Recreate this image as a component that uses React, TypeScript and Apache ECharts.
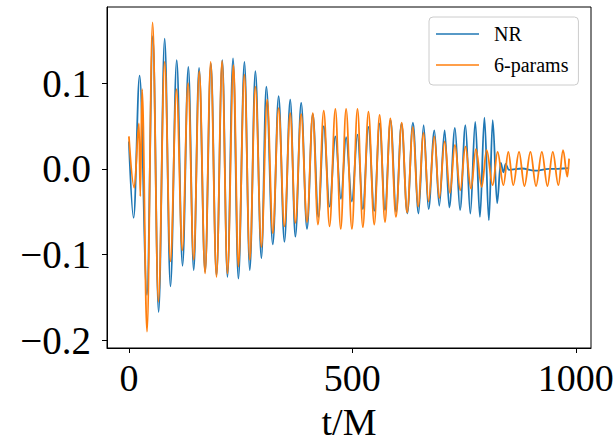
import React, { useEffect, useRef } from "react";
import * as echarts from "echarts";

// NR waveform: times (t/M) and values read at each extremum
const nrTime = [0, 10.5, 24, 40.5, 53.5, 66.5, 80, 93, 107, 120, 133, 145, 157, 170.5, 183.5, 196, 209, 220.5, 233, 245, 258.5, 270.5, 283, 296.5, 307.5, 322, 335, 348, 361, 372.5, 385.5, 398.5, 411.5, 424, 436, 449, 462, 474.5, 486, 499, 511.5, 523.5, 536, 549, 561, 573, 585.5, 598, 610, 623, 635.5, 648, 659.5, 670.5, 683.5, 694.5, 706.5, 717, 729.5, 741, 753, 764, 775, 785.5, 795.5, 805.5, 814, 824, 832, 838, 843, 850, 880, 908, 940, 985];
const nrValue = [0.032, -0.057, 0.109, -0.147, 0.155, -0.167, 0.152, -0.137, 0.127, -0.113, 0.119, -0.118, 0.118, -0.12, 0.123, -0.124, 0.127, -0.126, 0.129, -0.128, 0.125, -0.118, 0.114, -0.104, 0.096, -0.088, 0.085, -0.085, 0.081, -0.079, 0.077, -0.07, 0.064, -0.056, 0.05, -0.044, 0.038, -0.035, 0.037, -0.038, 0.04, -0.047, 0.049, -0.049, 0.053, -0.048, 0.057, -0.05, 0.053, -0.052, 0.054, -0.052, 0.051, -0.047, 0.045, -0.043, 0.045, -0.045, 0.048, -0.048, 0.051, -0.052, 0.055, -0.056, 0.06, -0.06, 0.057, -0.04, 0.007, -0.004, 0.006, -0.001, 0.0005, -0.002, 0.0, 0.001];

// 6-params model waveform
const fitTime = [0, 12, 22.5, 25.5, 29.5, 40.5, 53, 66, 80, 93, 106.5, 119.5, 132.5, 145, 157.5, 170.5, 183, 196, 208.5, 220.5, 234, 245, 258.5, 270.5, 283, 296.5, 309.5, 322, 335, 348, 361, 372.5, 385.5, 398.5, 411.5, 423, 436, 449, 462, 474, 486, 499, 511.5, 523.5, 536, 549, 561, 573, 585, 597.5, 610.5, 622.5, 635.5, 647, 659.5, 670.5, 683.5, 694.5, 706.5, 718.5, 729.5, 741.5, 753, 765.5, 776.5, 789.5, 800.5, 814, 825, 838, 849, 860, 873, 885, 898.5, 911, 924, 936.5, 948.5, 961, 971.5, 981, 985];
const fitValue = [0.038, -0.022, 0.053, -0.032, 0.093, -0.19, 0.171, -0.155, 0.125, -0.108, 0.093, -0.095, 0.1, -0.106, 0.114, -0.122, 0.125, -0.126, 0.126, -0.122, 0.121, -0.114, 0.11, -0.106, 0.096, -0.091, 0.081, -0.075, 0.071, -0.067, 0.065, -0.063, 0.064, -0.062, 0.065, -0.065, 0.068, -0.067, 0.07, -0.07, 0.07, -0.07, 0.07, -0.068, 0.067, -0.065, 0.063, -0.062, 0.059, -0.056, 0.054, -0.051, 0.049, -0.044, 0.042, -0.038, 0.038, -0.034, 0.032, -0.028, 0.028, -0.025, 0.026, -0.023, 0.023, -0.021, 0.022, -0.019, 0.02, -0.019, 0.02, -0.019, 0.02, -0.02, 0.02, -0.02, 0.02, -0.02, 0.02, -0.019, 0.022, -0.009, 0.012];

const seriesNames = ["NR", "6-params"];
const xTicks = [0, 500, 1000];
const yTicks = [-0.2, -0.1, 0, 0.1];

const FONT = "'Liberation Serif', 'Times New Roman', serif";

function zip(t: number[], v: number[]) {
  const n = Math.min(t.length, v.length);
  const out: number[][] = [];
  for (let i = 0; i < n; i++) out.push([t[i], v[i]]);
  return out;
}

export default function App() {
  const ref = useRef<HTMLDivElement>(null);
  useEffect(() => {
    if (!ref.current) return;
    const chart = echarts.init(ref.current, undefined, { renderer: "svg" });
    chart.setOption({
      animation: false,
      backgroundColor: "#ffffff",
      grid: {
        left: 107,
        right: 25,
        top: 7,
        bottom: 94,
        show: true,
        borderColor: "#000",
        borderWidth: 1,
        outerBoundsMode: "none",
      },
      legend: {
        orient: "vertical",
        left: 429,
        top: 17,
        padding: [7, 10, 10, 7],
        icon: "rect",
        itemWidth: 43,
        itemHeight: 1.6,
        itemGap: 11,
        backgroundColor: "rgba(255,255,255,0.8)",
        borderColor: "#cccccc",
        borderWidth: 1,
        borderRadius: 4,
        textStyle: { fontFamily: FONT, fontSize: 20, color: "#000", padding: [0, 0, 0, 10] },
        data: seriesNames,
      },
      xAxis: {
        type: "value",
        min: -49,
        max: 1034,
        splitLine: { show: false },
        axisLine: { show: true, onZero: false, lineStyle: { color: "#000", width: 1 } },
        axisTick: { show: true, customValues: xTicks, length: 5, lineStyle: { color: "#000" } },
        axisLabel: {
          customValues: xTicks,
          fontFamily: FONT,
          fontSize: 38,
          color: "#000",
          margin: 11,
          formatter: (v: number) => String(Math.round(v)),
        },
        name: "t/M",
        nameLocation: "middle",
        nameGap: 55,
        nameTextStyle: { fontFamily: FONT, fontSize: 38, color: "#000" },
      },
      yAxis: {
        type: "value",
        min: -0.209,
        max: 0.189,
        splitLine: { show: false },
        axisLine: { show: true, onZero: false, lineStyle: { color: "#000", width: 1 } },
        axisTick: { show: true, customValues: yTicks, length: 5, lineStyle: { color: "#000" } },
        axisLabel: {
          customValues: yTicks,
          fontFamily: FONT,
          fontSize: 39,
          color: "#000",
          margin: 16,
          formatter: (v: number) => (v < -1e-9 ? "\u2212" : "") + Math.abs(v).toFixed(1),
        },
      },
      series: [
        {
          name: seriesNames[0],
          type: "line",
          data: zip(nrTime, nrValue),
          symbol: "none",
          smooth: 0.36,
          smoothMonotone: "x",
          lineStyle: { color: "#1f77b4", width: 1.8 },
          itemStyle: { color: "#1f77b4" },
          z: 2,
        },
        {
          name: seriesNames[1],
          type: "line",
          data: zip(fitTime, fitValue),
          symbol: "none",
          smooth: 0.36,
          smoothMonotone: "x",
          lineStyle: { color: "#ff7f0e", width: 1.8 },
          itemStyle: { color: "#ff7f0e" },
          z: 3,
        },
      ],
    });
    return () => chart.dispose();
  }, []);
  return (
    <div
      ref={ref}
      style={{ position: "absolute", left: 0, top: 0, width: 616, height: 442 }}
    />
  );
}
